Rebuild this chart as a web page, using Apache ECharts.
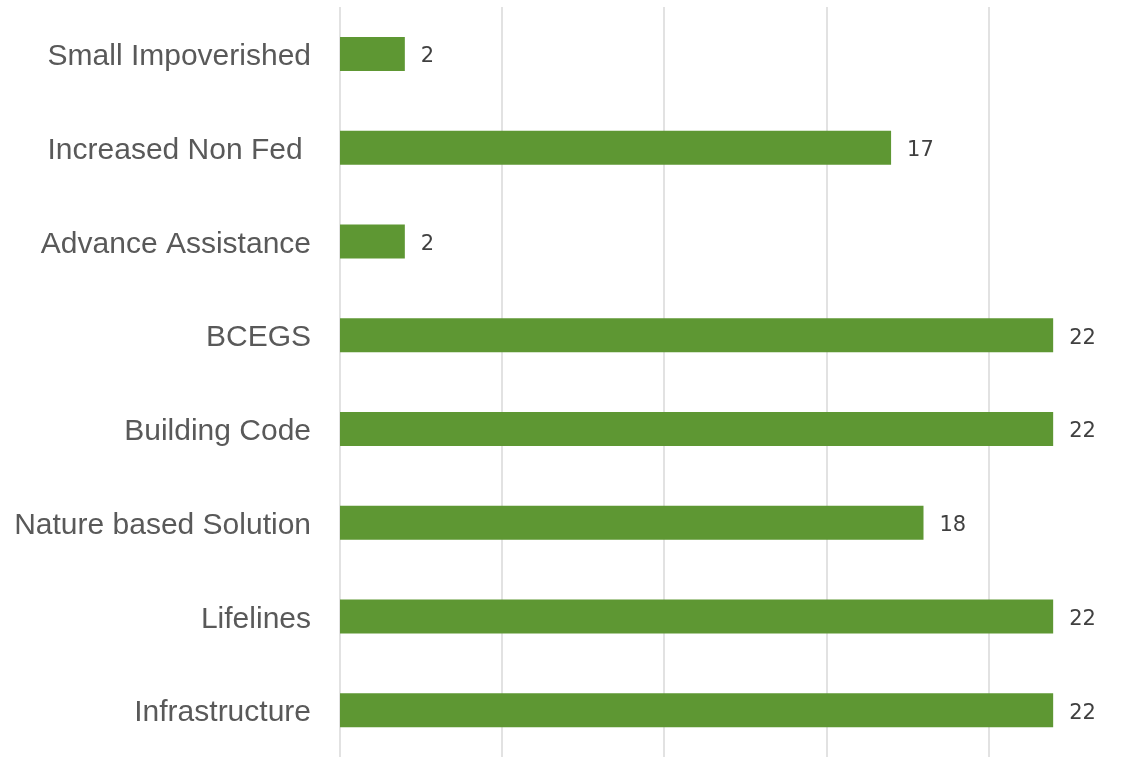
<!DOCTYPE html>
<html>
<head>
<meta charset="utf-8">
<script src="https://cdn.jsdelivr.net/npm/echarts@6/dist/echarts.min.js"></script>
<style>
  html, body { margin: 0; padding: 0; background: #fff; }
  #main { width: 1147px; height: 757px; }
</style>
</head>
<body>
<div id="main"></div>
<script>
var categories = ['Small Impoverished', 'Increased Non Fed ', 'Advance Assistance', 'BCEGS',
  'Building Code', 'Nature based Solution', 'Lifelines', 'Infrastructure'];
var values = [2, 17, 2, 22, 22, 18, 22, 22];

var chart = echarts.init(document.getElementById('main'));

var option = {
  backgroundColor: '#ffffff',
  animation: false,
  grid: {
    left: 340,
    right: 29,
    top: 7,
    bottom: -1,
    containLabel: false
  },
  xAxis: {
    type: 'value',
    min: 0,
    max: 24,
    interval: 5,
    axisLabel: { show: false },
    axisLine: { show: false },
    axisTick: { show: false },
    splitLine: {
      show: true,
      showMaxLine: false,
      lineStyle: { color: '#d9d9d9', width: 1.5 }
    }
  },
  yAxis: {
    type: 'category',
    inverse: true,
    data: categories,
    axisLine: { show: false },
    axisTick: { show: false },
    axisLabel: {
      margin: 29,
      formatter: function (value) {
        return '{a|' + value + '}';
      },
      rich: {
        a: {
          color: '#595959',
          fontSize: 30,
          padding: [6, 0, 0, 0],
          fontFamily: 'Liberation Sans, Arial, sans-serif'
        }
      }
    }
  },
  series: [{
    type: 'bar',
    data: values,
    barWidth: 34,
    itemStyle: { color: '#5e9733' },
    label: {
      show: true,
      position: 'right',
      distance: 16,
      offset: [0, 3],
      color: '#404040',
      fontSize: 21,
      fontFamily: 'DejaVu Sans, sans-serif'
    }
  }]
};

chart.setOption(option);
</script>
</body>
</html>
